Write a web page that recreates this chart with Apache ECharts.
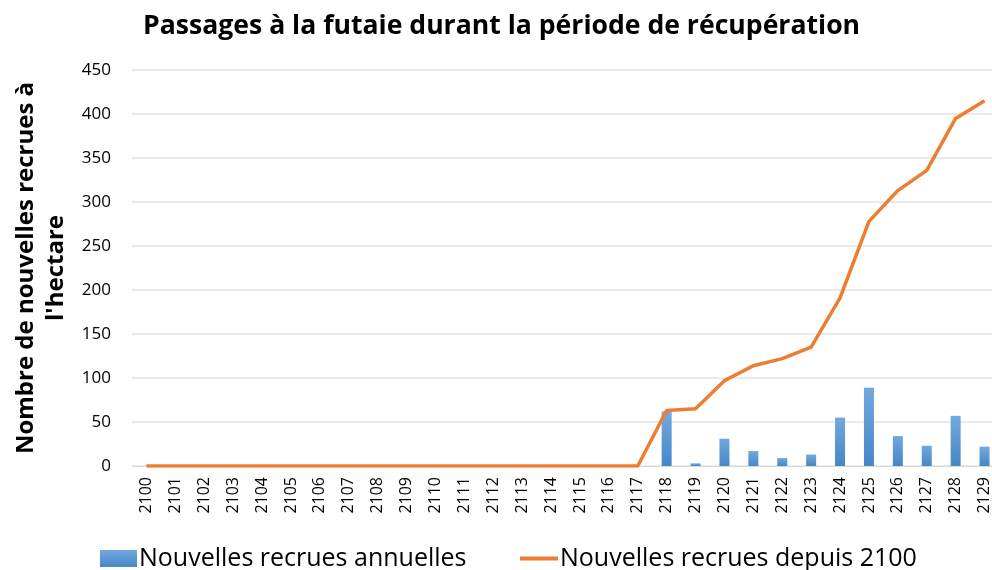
<!DOCTYPE html>
<html>
<head>
<meta charset="utf-8">
<script src="https://cdn.jsdelivr.net/npm/echarts@6/dist/echarts.min.js"></script>
<style>
  html, body { margin: 0; padding: 0; background: #fff; }
  #chart { width: 992px; height: 570px; }
</style>
</head>
<body>
<div id="chart"></div>
<script>
// années de la période de récupération
var annees = [];
for (var a = 2100; a <= 2129; a++) { annees.push(String(a)); }

// nouvelles recrues annuelles (tiges/ha)
var recruesAnnuelles = [0, 0, 0, 0, 0, 0, 0, 0, 0, 0,
                        0, 0, 0, 0, 0, 0, 0, 0, 62, 3,
                        31, 17, 9, 13, 55, 89, 34, 23, 57, 22];

// cumul depuis 2100
var recruesCumul = [0, 0, 0, 0, 0, 0, 0, 0, 0, 0,
                    0, 0, 0, 0, 0, 0, 0, 0, 63, 65,
                    97, 114, 122, 135, 191, 278, 313, 336, 395, 415];

var myChart = echarts.init(document.getElementById('chart'));

var legendText = {
    fontFamily: 'Open Sans',
    fontSize: 25,
    color: '#000',
    padding: [0, 0, 0, -3]
};

var option = {
    animation: false,
    title: {
        text: 'Passages à la futaie durant la période de récupération',
        left: 138,
        top: 8,
        textStyle: {
            fontFamily: 'Open Sans',
            fontWeight: 'bold',
            fontSize: 26.6,
            color: '#000'
        }
    },
    legend: [
        {
            left: 95,
            top: 541,
            itemWidth: 37,
            itemHeight: 17,
            icon: 'rect',
            textStyle: legendText,
            data: ['Nouvelles recrues annuelles']
        },
        {
            left: 515,
            top: 541,
            itemWidth: 38,
            itemHeight: 4,
            icon: 'rect',
            textStyle: legendText,
            data: ['Nouvelles recrues depuis 2100']
        }
    ],
    grid: {
        left: 132,
        right: -7,
        top: 70,
        bottom: 104,
        outerBoundsMode: 'none'
    },
    xAxis: {
        type: 'category',
        data: annees,
        axisLine: { lineStyle: { color: '#d9d9d9' } },
        axisTick: { show: false },
        axisLabel: {
            rotate: 90,
            interval: 0,
            fontFamily: 'Open Sans',
            fontSize: 16,
            color: '#000',
            margin: 11
        }
    },
    yAxis: {
        type: 'value',
        min: 0,
        max: 450,
        interval: 50,
        name: "Nombre de nouvelles recrues à\nl'hectare",
        nameLocation: 'middle',
        nameGap: 54,
        nameTextStyle: {
            fontFamily: 'Open Sans',
            fontWeight: 'bold',
            fontSize: 24,
            color: '#000',
            lineHeight: 30
        },
        axisLine: { show: false },
        axisTick: { show: false },
        splitLine: { lineStyle: { color: '#e3e3e8', width: 1.5 } },
        axisLabel: {
            fontFamily: 'Open Sans',
            fontSize: 17,
            color: '#000',
            margin: 21
        }
    },
    series: [
        {
            name: 'Nouvelles recrues annuelles',
            type: 'bar',
            data: recruesAnnuelles,
            barWidth: 10,
            itemStyle: {
                color: new echarts.graphic.LinearGradient(0, 0, 0, 1, [
                    { offset: 0, color: '#72a9de' },
                    { offset: 1, color: '#4686c8' }
                ])
            }
        },
        {
            name: 'Nouvelles recrues depuis 2100',
            type: 'line',
            data: recruesCumul,
            symbol: 'none',
            lineStyle: { color: '#ed7d31', width: 3.5 },
            itemStyle: { color: '#ed7d31' }
        }
    ]
};

myChart.setOption(option);
window.addEventListener('resize', function () {
    myChart.resize();
});
</script>
</body>
</html>
